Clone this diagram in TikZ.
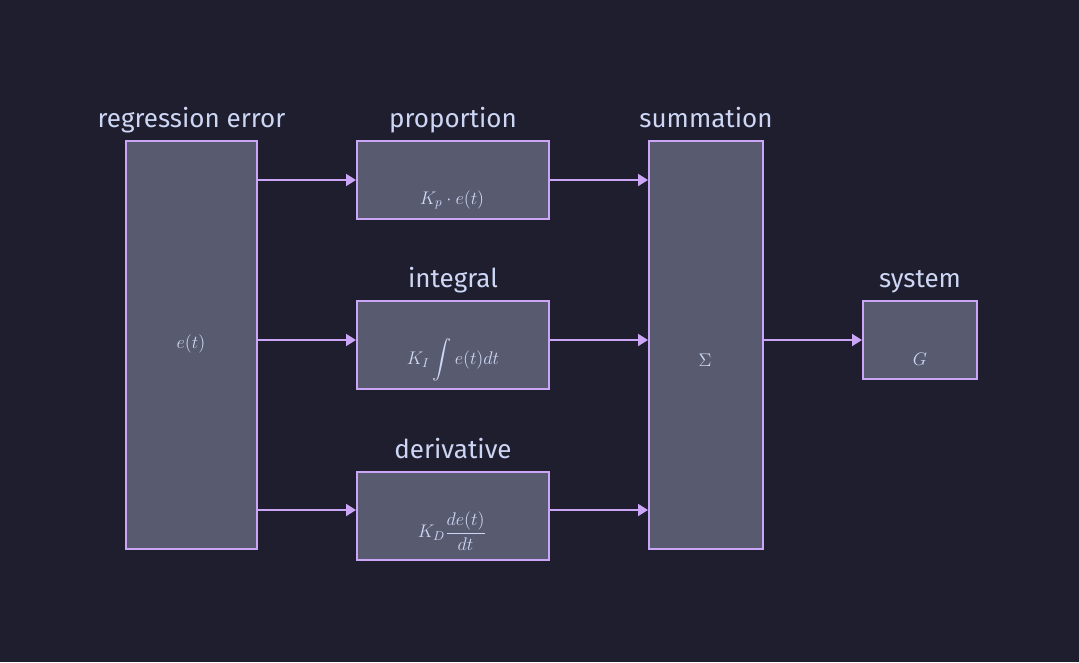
\documentclass[tikz,border=0pt]{standalone}
\usepackage{fix-cm}
\usepackage[no-math]{fontspec}
\setmainfont{Fira Sans}
\usepackage{amsmath}
\usetikzlibrary{arrows.meta,positioning}
\definecolor{bgdark}{HTML}{1E1E2E}
\definecolor{boxfill}{HTML}{585B70}
\definecolor{mauve}{HTML}{CBA6F7}
\definecolor{textlight}{HTML}{CDD6F4}
\tikzset{
	block/.style={draw=mauve,fill=boxfill,line width=1.5pt,inner sep=0pt},
	heading/.style={text=textlight,font=\fontsize{19.5}{23}\selectfont},
	formula/.style={text=textlight,font=\fontsize{13.7}{16}\selectfont,inner sep=0pt},
	link/.style={-{Triangle[length=7.5pt,width=9pt]},draw=mauve,line width=1.5pt}
}

\begin{document}
\begin{tikzpicture}[x=0.75pt,y=-0.75pt]
	
	\fill[bgdark] (0,0) rectangle (1079,662);
	\useasboundingbox (0,0) rectangle (1079,662);
	
	% the blocks
	\node[block,minimum width=98.25pt,minimum height=306pt] (reg) at (191.5,345) {};
	\node[block,minimum width=144pt,minimum height=58.5pt] (prop) at (453,180) {};
	\node[block,minimum width=144pt,minimum height=66pt] (integ) at (453,345) {};
	\node[block,minimum width=144pt,minimum height=66pt] (deriv) at (453,516) {};
	\node[block,minimum width=85.5pt,minimum height=306pt] (summ) at (706,345) {};
	\node[block,minimum width=85.5pt,minimum height=58.5pt] (sys) at (920,340) {};
	
	% titles
	\node[heading,above=9.75pt of reg,anchor=base] (reg-title) {regression error};
	\node[heading,above=9.75pt of prop,anchor=base] (prop-title) {proportion};
	\node[heading,above=9.75pt of integ,anchor=base] (integ-title) {integral};
	\node[heading,above=9.75pt of deriv,anchor=base] (deriv-title) {derivative};
	\node[heading,above=9.75pt of summ,anchor=base] (summ-title) {summation};
	\node[heading,above=9.75pt of sys,anchor=base] (sys-title) {system};
	
	% formulas
	\node[formula] (reg-text) at (191,344) {$e(t)$};
	\node[formula] (prop-text) at (452,200) {$K_p \cdot e(t)$};
	\node[formula] (integ-text) at (453,360) {$\displaystyle K_I \int e(t) dt$};
	\node[formula] (deriv-text) at (452,531) {$K_D \dfrac{de(t)}{dt}$};
	\node[formula] (summ-text) at (705,360) {$\Sigma$};
	\node[formula] (sys-text) at (920,359) {$G$};
	
	\coordinate (row2) at (0,340);
	\coordinate (row3) at (0,510);
	
	\draw[link] (reg.east |- prop.west) -- (prop.west);
	\draw[link] (reg.east |- row2) -- (integ.west |- row2);
	\draw[link] (reg.east |- row3) -- (deriv.west |- row3);
	\draw[link] (prop.east) -- (summ.west |- prop.east);
	\draw[link] (integ.east |- row2) -- (summ.west |- row2);
	\draw[link] (deriv.east |- row3) -- (summ.west |- row3);
	\draw[link] (summ.east |- sys.west) -- (sys.west);
	
\end{tikzpicture}
\end{document}
